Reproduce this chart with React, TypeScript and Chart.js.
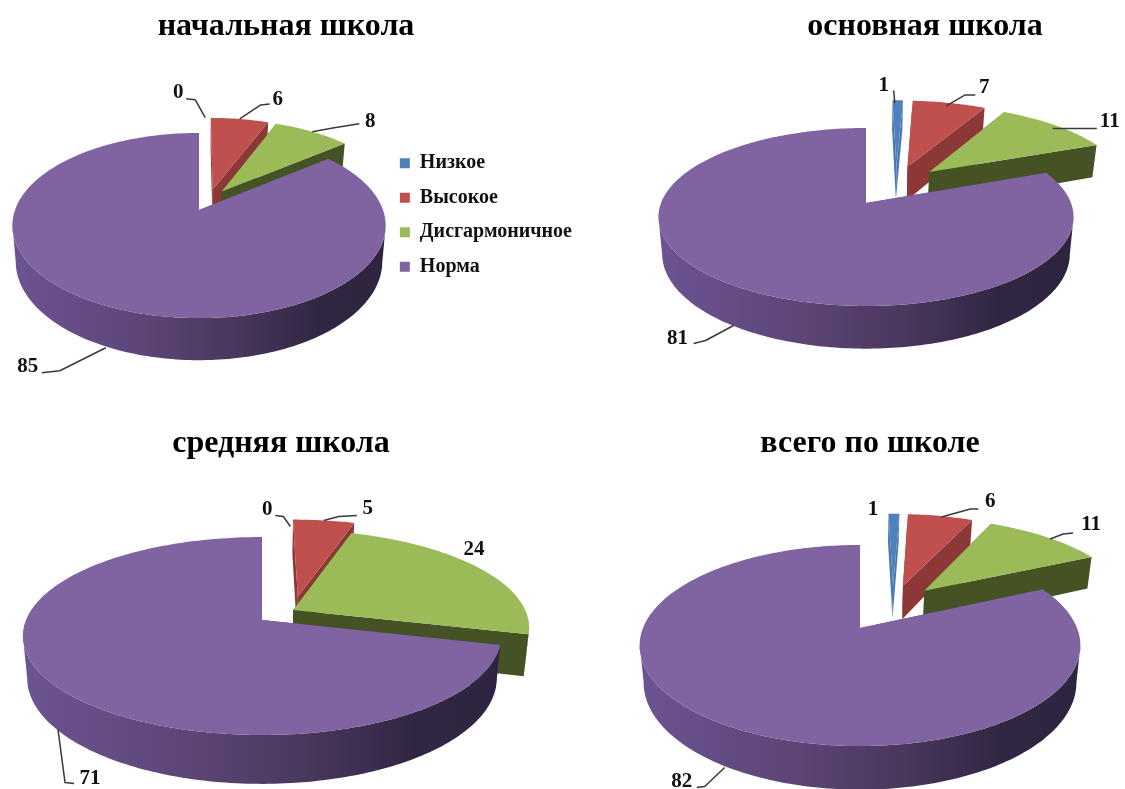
import React, { useEffect, useRef } from "react";
import { Chart, registerables } from "chart.js";

Chart.register(...registerables);

const categories = ["Низкое", "Высокое", "Дисгармоничное", "Норма"];
const primaryValues = [0, 6, 8, 85];
const basicValues = [1, 7, 11, 81];
const middleValues = [0, 5, 24, 71];
const totalValues = [1, 6, 11, 82];
const panelTitles = ["начальная школа", "основная школа", "средняя школа", "всего по школе"];

const SERIF = '"Liberation Serif", "Times New Roman", serif';
const topColors = ["#4f81bd", "#c0504d", "#9bbb59", "#8064a2"];
const cutColors = ["#4a7ab3", "#8b3836", "#445224", "#5a4474"];
const rimColors = ["#4a7ab3", "#8b3836", "#566a2e", ""];
const R = 100;

type LabelSpec = { start?: number[]; elbow?: number[]; end?: number[]; text: number[] };
type Panel = {
  values: number[];
  title: string;
  titleX: number;
  titleY: number;
  box: number[];
  cx: number;
  apexY: number;
  rx: number;
  ry: number;
  k: number;
  depth: number;
  explode: number[];
  labels: LabelSpec[];
  legend?: boolean;
};

const panels: Panel[] = [
  {
    values: primaryValues, title: panelTitles[0], titleX: 286, titleY: 24,
    box: [0, 0, 582, 430], cx: 199, apexY: 210, rx: 184, ry: 90, k: 0.1676, depth: 35,
    explode: [0.125, 0.125, 0.125, 0.125], legend: true,
    labels: [
      { start: [-2, 0], elbow: [-12, -18], end: [-21, -19], text: [-29, -25] },
      { elbow: [21, -14], end: [30, -15], text: [38, -19] },
      { elbow: [22, -4], end: [47, -8], text: [58, -10] },
      { start: [0, 42], elbow: [-46, 65], end: [-64, 67], text: [-78, 61] },
    ],
  },
  {
    values: basicValues, title: panelTitles[1], titleX: 925, titleY: 24,
    box: [640, 50, 485, 320], cx: 866, apexY: 203, rx: 205, ry: 86.8, k: 0.157, depth: 36,
    explode: [0.233, 0.233, 0.233, 0.27],
    labels: [
      { start: [-3, 3], elbow: [-4, -9], end: [-5, -9], text: [-14, -15] },
      { start: [-3, 3], elbow: [16, -8], end: [26, -8], text: [35, -15] },
      { start: [-3, 3], elbow: [22, 3], end: [41, 3], text: [54, -4] },
      { start: [0, 40], elbow: [-28, 55], end: [-40, 58], text: [-56, 53] },
    ],
  },
  {
    values: middleValues, title: panelTitles[2], titleX: 281, titleY: 441,
    box: [0, 465, 560, 324], cx: 262, apexY: 620, rx: 236, ry: 96.4, k: 0.1616, depth: 41,
    explode: [0.15, 0.15, 0, 0.17],
    labels: [
      { start: [2, 7], elbow: [-5, -3], end: [-13, -4], text: [-21, -10] },
      { elbow: [15, -4], end: [33, -5], text: [44, -12] },
      { text: [-6, -19] },
      { start: [3, 44], elbow: [10, 97], end: [19, 98], text: [35, 93] },
    ],
  },
  {
    values: totalValues, title: panelTitles[3], titleX: 870, titleY: 441,
    box: [620, 465, 505, 324], cx: 860, apexY: 628, rx: 217, ry: 97.5, k: 0.174, depth: 36,
    explode: [0.225, 0.225, 0.225, 0.295],
    labels: [
      { text: [-21, -4] },
      { start: [1, 1], elbow: [30, -7], end: [38, -7], text: [50, -14] },
      { start: [4, 2], elbow: [17, -3], end: [27, -4], text: [45, -12] },
      { start: [1, 43], elbow: [-19, 62], end: [-27, 63], text: [-42, 57] },
    ],
  },
];

function makeProjection(p: Panel) {
  return (u: number, v: number, lower = false) => {
    const den = 1 - p.k * v;
    const narrowing = lower ? 0.982 : 1;
    return {
      x: p.cx + (p.rx * u * narrowing) / den,
      y: p.apexY + (p.ry * v) / den + (lower ? p.depth / den : 0),
    };
  };
}

function makePiePlugin(p: Panel) {
  return {
    id: "perspectivePie",
    beforeDatasetsDraw(chart: any) {
      const ctx: CanvasRenderingContext2D = chart.ctx;
      const arcs = chart.getDatasetMeta(0).data;
      const project = makeProjection(p);
      const shiftOf = (a: any) => {
        const mid = (a.startAngle + a.endAngle) / 2;
        const e = (a.options.offset || 0) / 4 / a.outerRadius;
        return { x: Math.cos(mid) * e, y: Math.sin(mid) * e };
      };
      const anchorShift = shiftOf(arcs[arcs.length - 1]);

      const grad = ctx.createLinearGradient(p.cx - p.rx, 0, p.cx + p.rx, 0);
      grad.addColorStop(0, "#6c5392");
      grad.addColorStop(0.35, "#5d4577");
      grad.addColorStop(0.6, "#49375c");
      grad.addColorStop(0.82, "#322743");
      grad.addColorStop(1, "#2e2440");

      ctx.save();
      ctx.translate(-p.box[0], -p.box[1]);
      ctx.lineJoin = "round";

      arcs.forEach((a: any, i: number) => {
        const s = shiftOf(a);
        const ox = s.x - anchorShift.x;
        const oy = s.y - anchorShift.y;
        const span = a.endAngle - a.startAngle;
        const apexTop = project(ox, oy);
        const apexLow = project(ox, oy, true);

        const rimPoint = (angle: number, lower = false) =>
          project(ox + Math.cos(angle), oy + Math.sin(angle), lower);

        if (span > 0) {
          // radial cut faces
          ctx.fillStyle = cutColors[i];
          [a.startAngle, a.endAngle].forEach((angle: number) => {
            const t = rimPoint(angle);
            const l = rimPoint(angle, true);
            ctx.beginPath();
            ctx.moveTo(apexTop.x, apexTop.y);
            ctx.lineTo(t.x, t.y);
            ctx.lineTo(l.x, l.y);
            ctx.lineTo(apexLow.x, apexLow.y);
            ctx.closePath();
            ctx.fill();
          });

          // outer wall: only the segments that face the viewer, as one path
          const steps = Math.max(2, Math.ceil(span / 0.02));
          ctx.fillStyle = rimColors[i] || grad;
          ctx.beginPath();
          for (let n = 0; n < steps; n++) {
            const a0 = a.startAngle + (span * n) / steps;
            const a1 = a.startAngle + (span * (n + 1)) / steps;
            const t0 = rimPoint(a0);
            const t1 = rimPoint(a1);
            if (t1.x >= t0.x) continue; // back-facing
            const l1 = rimPoint(a1, true);
            const l0 = rimPoint(a0, true);
            ctx.moveTo(t0.x, t0.y);
            ctx.lineTo(t1.x, t1.y);
            ctx.lineTo(l1.x, l1.y);
            ctx.lineTo(l0.x, l0.y);
            ctx.closePath();
          }
          ctx.fill();

          // top face
          ctx.fillStyle = a.options.backgroundColor;
          ctx.beginPath();
          ctx.moveTo(apexTop.x, apexTop.y);
          for (let n = 0; n <= steps; n++) {
            const pt = rimPoint(a.startAngle + (span * n) / steps);
            ctx.lineTo(pt.x, pt.y);
          }
          ctx.closePath();
          ctx.fill();
        }
      });

      // leader lines and value labels
      arcs.forEach((a: any, i: number) => {
        const spec = p.labels[i];
        const s = shiftOf(a);
        const mid = (a.startAngle + a.endAngle) / 2;
        const at = project(s.x - anchorShift.x + Math.cos(mid), s.y - anchorShift.y + Math.sin(mid));
        if (spec.elbow && spec.end) {
          const st = spec.start || [0, 0];
          ctx.strokeStyle = "#3a3a3a";
          ctx.lineWidth = 1.5;
          ctx.beginPath();
          ctx.moveTo(at.x + st[0], at.y + st[1]);
          ctx.lineTo(at.x + spec.elbow[0], at.y + spec.elbow[1]);
          ctx.lineTo(at.x + spec.end[0], at.y + spec.end[1]);
          ctx.stroke();
        }
        ctx.fillStyle = "#111111";
        ctx.font = `bold 21px ${SERIF}`;
        ctx.textAlign = "center";
        ctx.textBaseline = "middle";
        ctx.fillText(String(p.values[i]), at.x + spec.text[0], at.y + spec.text[1]);
      });

      ctx.restore();
      return false;
    },
  };
}

function PieCanvas({ panel }: { panel: Panel }) {
  const ref = useRef<HTMLCanvasElement | null>(null);
  useEffect(() => {
    if (!ref.current) return;
    const chart = new Chart(ref.current, {
      type: "pie",
      data: {
        labels: categories,
        datasets: [
          {
            data: panel.values,
            backgroundColor: topColors,
            borderWidth: 0,
            offset: panel.explode.map((e) => e * 4 * R),
          },
        ],
      },
      options: {
        responsive: false,
        animation: false,
        radius: R,
        plugins: {
          tooltip: { enabled: false },
          title: { display: false },
          legend: panel.legend
            ? {
                display: true,
                position: "right",
                labels: {
                  boxWidth: 10,
                  boxHeight: 10,
                  padding: 14.5,
                  color: "#111111",
                  font: { family: SERIF, weight: "bold", size: 20 },
                },
              }
            : { display: false },
        },
      },
      plugins: [makePiePlugin(panel)],
    } as any);
    return () => chart.destroy();
  }, [panel]);
  const [left, top, width, height] = panel.box;
  return (
    <canvas
      ref={ref}
      width={width}
      height={height}
      style={{ position: "absolute", left, top, width, height }}
    />
  );
}

export default function App() {
  return (
    <div
      style={{
        position: "absolute",
        left: 0,
        top: 0,
        width: 1125,
        height: 789,
        overflow: "hidden",
        background: "#ffffff",
        filter: "blur(0.5px)",
      }}
    >
      {panels.map((p) => (
        <PieCanvas key={p.title} panel={p} />
      ))}
      {panels.map((p) => (
        <div
          key={"t" + p.title}
          style={{
            position: "absolute",
            left: p.titleX - 250,
            top: p.titleY - 18,
            width: 500,
            height: 36,
            lineHeight: "36px",
            textAlign: "center",
            fontFamily: SERIF,
            fontWeight: "bold",
            fontSize: 32,
            color: "#000000",
          }}
        >
          {p.title}
        </div>
      ))}
    </div>
  );
}
